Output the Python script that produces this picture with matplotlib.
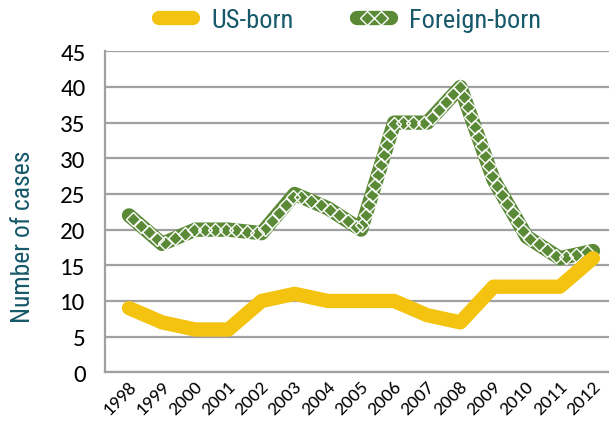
import numpy as np
import matplotlib
matplotlib.use("Agg")
import matplotlib.pyplot as plt
from matplotlib.lines import Line2D
from matplotlib.legend_handler import HandlerBase
import matplotlib.transforms as mtransforms

years = ["1998", "1999", "2000", "2001", "2002", "2003", "2004", "2005",
         "2006", "2007", "2008", "2009", "2010", "2011", "2012"]
us_born = [9, 7, 6, 6, 10, 11, 10, 10, 10, 8, 7, 12, 12, 12, 16]
foreign_born = [22, 18, 20, 20, 19.5, 25, 23, 20, 35, 35, 40, 27, 19, 16, 17]
yticks = [0, 5, 10, 15, 20, 25, 30, 35, 40, 45]
series_names = ["US-born", "Foreign-born"]

YELLOW = "#F4C30F"
GREEN = "#5B8A37"
TEAL = "#17596A"
GRID = "#A0A0A0"
narrow = ["Roboto Condensed", "DejaVu Sans"]
calib = ["Carlito", "DejaVu Sans"]
LW = 10.3
MS = 6.8

fig = plt.figure(figsize=(6.09, 4.27), dpi=100)
ax = fig.add_axes([105 / 609, (427 - 373.3) / 427, 504 / 609, (373.3 - 52.3) / 427])
x = np.arange(len(years))

ax.set_xlim(-0.724, 14.483)
ax.set_ylim(0, 45)
ax.set_yticks(yticks)
ax.grid(axis="y", color=GRID, linewidth=1.6)
ax.set_axisbelow(True)
for s in ["top", "right"]:
    ax.spines[s].set_visible(False)
for s in ["left", "bottom"]:
    ax.spines[s].set_color(GRID)
    ax.spines[s].set_linewidth(1.6)

ax.plot(x, foreign_born, color=GREEN, lw=LW, solid_capstyle="round",
        solid_joinstyle="round", zorder=3)

# white diamond lattice along the green line, sampled in display space
fig.canvas.draw()
pts = ax.transData.transform(np.column_stack([x, foreign_born]))
seg = np.diff(pts, axis=0)
seglen = np.hypot(seg[:, 0], seg[:, 1])
cum = np.concatenate([[0], np.cumsum(seglen)])
step = 10.5
d = np.arange(step / 2, cum[-1], step)
px = np.interp(d, cum, pts[:, 0])
py = np.interp(d, cum, pts[:, 1])
dpts = ax.transData.inverted().transform(np.column_stack([px, py]))
ax.plot(dpts[:, 0], dpts[:, 1], ls="none", marker="D", ms=MS,
        mfc="none", mec="white", mew=1.0, zorder=4)

ax.plot(x, us_born, color=YELLOW, lw=LW, solid_capstyle="round",
        solid_joinstyle="round", zorder=5)

ax.set_xticks(x)
ax.set_xticklabels(years, rotation=45, ha="right", va="top",
                   rotation_mode="anchor", fontsize=14, family=calib)
ax.tick_params(axis="x", length=0, pad=4)
offset = mtransforms.ScaledTranslation(-1 / 72, 0, fig.dpi_scale_trans)
for lab in ax.get_xticklabels():
    lab.set_transform(lab.get_transform() + offset)
ax.tick_params(axis="y", length=0, labelsize=18, pad=14)
for lab in ax.get_yticklabels():
    lab.set_family(calib)

fig.text(23 / 609, (427 - 237) / 427, "Number of cases", rotation=90,
         ha="center", va="center", fontsize=18.5, color=TEAL, family=narrow)


class SolidHandler(HandlerBase):
    def create_artists(self, legend, orig_handle, xdescent, ydescent,
                       width, height, fontsize, trans):
        y = height / 2 - ydescent
        ln = Line2D([-xdescent, width - xdescent], [y, y], color=YELLOW,
                    lw=LW, solid_capstyle="round", transform=trans)
        return [ln]


class DiamondHandler(HandlerBase):
    def create_artists(self, legend, orig_handle, xdescent, ydescent,
                       width, height, fontsize, trans):
        y = height / 2 - ydescent
        xc = width / 2 - xdescent
        ln = Line2D([-xdescent, width - xdescent], [y, y], color=GREEN,
                    lw=LW, solid_capstyle="round", transform=trans)
        mk = Line2D([xc - 4.8, xc + 4.8], [y, y], ls="none", marker="D",
                    ms=MS, mfc="none", mec="white", mew=1.0,
                    transform=trans)
        return [ln, mk]


h1 = Line2D([], [])
h2 = Line2D([], [])
leg = fig.legend([h1, h2], series_names, loc="center",
                 bbox_to_anchor=(350 / 609, (427 - 21) / 427), ncol=2,
                 frameon=False, prop={"family": narrow, "size": 19},
                 handlelength=1.3, columnspacing=2.4, handletextpad=0.68,
                 handler_map={h1: SolidHandler(), h2: DiamondHandler()})
for t in leg.get_texts():
    t.set_color(TEAL)

fig.savefig("out.png", dpi=100)
